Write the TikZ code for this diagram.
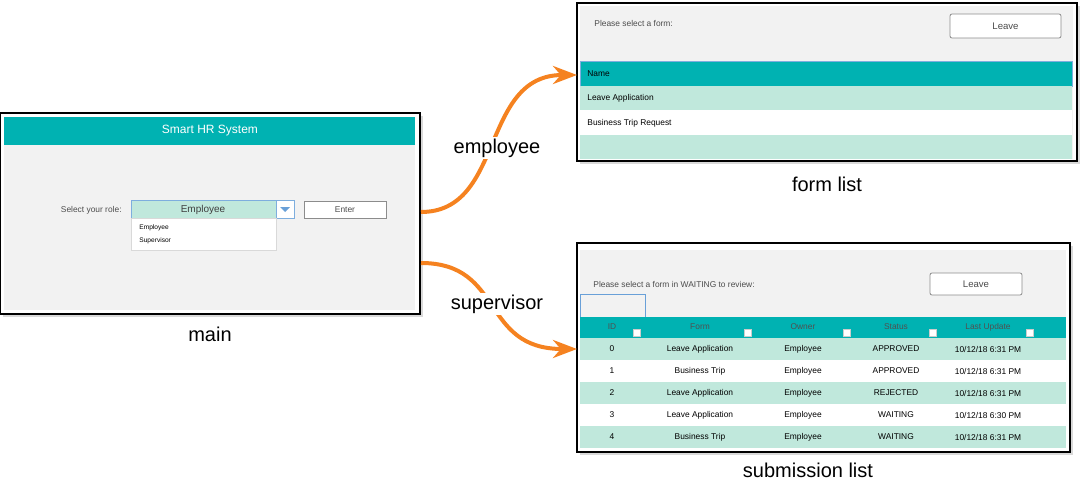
\documentclass[tikz,border=0pt]{standalone}
\usepackage{fontspec}
\setmainfont{Liberation Sans}
\usetikzlibrary{positioning}
\usetikzlibrary{arrows.meta}
\usetikzlibrary{shadows}
\definecolor{teal}{RGB}{0,178,178}
\definecolor{lteal}{RGB}{192,232,220}
\definecolor{gray}{RGB}{242,242,242}
\definecolor{orange}{RGB}{245,130,32}
\definecolor{blue}{RGB}{40,120,200}
\definecolor{hdtext}{RGB}{80,80,80}
\begin{document}
\begin{tikzpicture}[x=0.5pt,y=-0.5pt,>=Stealth,
win/.style={draw=black,fill=white,line width=0.6pt,drop shadow={opacity=0.3,shadow xshift=1.5pt,shadow yshift=-1.5pt}},
btn/.style={draw=black!45,fill=white,rounded corners=1pt,font=\fontsize{4.5}{5}\selectfont},
ui/.style={inner sep=0pt,font=\fontsize{4.2}{5}\selectfont},
caption/.style={fill=white,inner sep=1pt,font=\fontsize{10}{12}\selectfont},
flow/.style={->,orange,line width=2pt}]
\useasboundingbox (0,0) rectangle (1087,492);

% main window
\draw[win] (0,113) rectangle (420,314);
\fill[gray] (4,117) rectangle (415,310);
\fill[teal] (4,117) rectangle (415,145);
\node[ui,white,font=\fontsize{6}{7}\selectfont] (title) at (210,131) {Smart HR System};
\node[ui,anchor=east,text=black!70] (role) at (122,210) {Select your role:};
\draw[blue!60,fill=lteal] (131,200) rectangle (276,218);
\node[ui,text=black!75,font=\fontsize{5}{6}\selectfont] (combo) at (203,209.5) {Employee};
\draw[blue!60,fill=white] (276,200) rectangle (294,218);
\fill[blue!70] (280,207) -- (290,207) -- (285,212) -- cycle;
\draw[btn,rounded corners=0pt] (304,201) rectangle (386,218);
\node[ui,text=black!70] (enter) at (345,209.5) {Enter};
\draw[black!15,fill=white] (131,218) rectangle (276,250);
\node[ui,anchor=west,font=\fontsize{3.3}{4}\selectfont] (opt1) at (139,228) {Employee};
\node[ui,anchor=west,font=\fontsize{3.3}{4}\selectfont] (opt2) at (139,241) {Supervisor};
\node[caption] (main) at (210,334) {main};

% form list
\draw[win] (577,3) rectangle (1077,161);
\fill[gray] (580,6) rectangle (1073,159);
\node[ui,anchor=west,text=black!70] (ask1) at (594,23) {Please select a form:};
\draw[btn] (950,14) rectangle (1061,38);
\node[ui,text=black!70,font=\fontsize{4.8}{5}\selectfont] (leave1) at (1005.5,26) {Leave};
\fill[teal] (580,61) rectangle (1072,86);
\draw[blue!60] (580,61) rectangle (1072,86);
\node[ui,anchor=west] (name) at (587,73.5) {Name};
\fill[lteal] (580,86) rectangle (1072,110);
\node[ui,anchor=west] (leaveapp) at (587,98) {Leave Application};
\fill[white] (580,110) rectangle (1072,135);
\node[ui,anchor=west] (trip) at (587,123) {Business Trip Request};
\fill[lteal] (580,135) rectangle (1072,159);
\node[caption] (forms) at (827,184) {form list};

% submission list
\draw[win] (577,243) rectangle (1070,452);
\fill[gray] (580,250) rectangle (1066,317);
\node[ui,anchor=west,text=black!70] (ask2) at (593,284) {Please select a form in WAITING to review:};
\draw[btn] (930,273) rectangle (1022,295);
\node[ui,text=black!70,font=\fontsize{4.8}{5}\selectfont] (leave2) at (976,284) {Leave};
\draw[blue!70] (580,294) rectangle (645,317);
\fill[teal] (580,317) rectangle (1066,338);
\foreach \cx/\head/\fx in {612/ID/637,700/Form/748,803/Owner/847,896/Status/933,988/Last Update/1030}
{
  \node[ui,text=hdtext] at (\cx,327) {\head};
  \draw[black!20,fill=white] (\fx-3.5,329) rectangle (\fx+3.5,336);
}
\foreach \i/\f/\s/\d in {0/Leave Application/APPROVED/6:31,1/Business Trip/APPROVED/6:31,2/Leave Application/REJECTED/6:31,3/Leave Application/WAITING/6:30,4/Business Trip/WAITING/6:31}
{
  \pgfmathsetmacro{\y}{338+22*\i}
  \ifodd\i \fill[white] (580,\y) rectangle (1066,\y+22); \else \fill[lteal] (580,\y) rectangle (1066,\y+22); \fi
  \node[ui] at (612,\y+11) {\i};
  \node[ui] at (700,\y+11) {\f};
  \node[ui] at (803,\y+11) {Employee};
  \node[ui] at (896,\y+11) {\s};
  \node[ui] at (988,\y+11) {10/12/18 \d\ PM};
}
\node[caption] (subs) at (808,470) {submission list};

% transitions
\coordinate (out1) at (421,212);
\coordinate (in1) at (577,75);
\coordinate (out2) at (421,263);
\coordinate (in2) at (577,349);
\draw[flow] (out1) .. controls (505,212) and (480,75) .. (in1);
\draw[flow] (out2) .. controls (505,263) and (480,349) .. (in2);
\node[caption] (emp) at (497,148) {employee};
\node[caption] (sup) at (497,304) {supervisor};
\end{tikzpicture}
\end{document}
